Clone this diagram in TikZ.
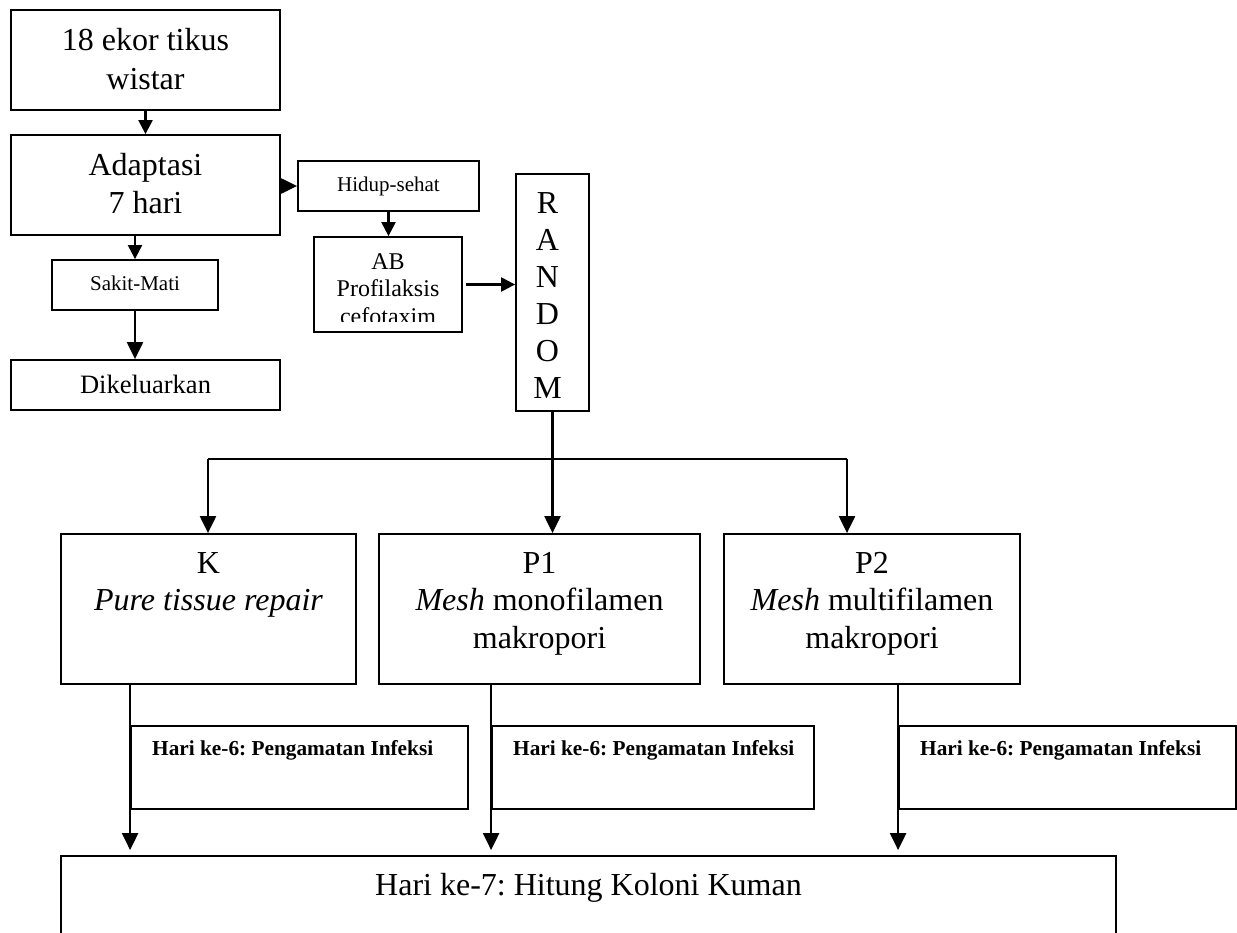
\documentclass[tikz,border=0pt]{standalone}
\usepackage{fontspec}
\setmainfont{Liberation Serif}
\usetikzlibrary{arrows.meta}
\frenchspacing
\begin{document}
\frenchspacing
\begin{tikzpicture}[x=1pt,y=-1pt,
  box/.style={draw, line width=1.8pt, rectangle, inner sep=0pt},
  ln/.style={line width=2.2pt},
  arr/.style={line width=2.2pt, -{Triangle[width=16pt,length=17pt]}},
  sarr/.style={line width=2.2pt, -{Triangle[width=14pt,length=14pt]}},
  tbig/.style={anchor=base, inner sep=0pt, font=\fontsize{32}{38}\selectfont},
  tmid/.style={anchor=base, inner sep=0pt, font=\fontsize{26.5}{32}\selectfont},
  tab/.style={anchor=base, inner sep=0pt, font=\fontsize{24}{28}\selectfont},
  tsmall/.style={anchor=base, inner sep=0pt, font=\fontsize{21}{25}\selectfont},
  tbold/.style={anchor=base west, inner sep=0pt, font=\fontsize{21.3}{25}\selectfont\bfseries},
]
\useasboundingbox (0,0) rectangle (1237,932);
\clip (0,0) rectangle (1237,932);
\fill[white] (0,0) rectangle (1237,932);

% boxes
\node[box, minimum width=269pt, minimum height=100pt] (b1) at (145.5,60) {};
\node[box, minimum width=269pt, minimum height=100pt] (b2) at (145.5,185) {};
\node[box, minimum width=181pt, minimum height=50pt] (hid) at (388.5,186) {};
\node[box, minimum width=148pt, minimum height=95pt] (ab) at (388,284.5) {};
\node[box, minimum width=166pt, minimum height=50pt] (sak) at (135,285) {};
\node[box, minimum width=269pt, minimum height=50pt] (dik) at (145.5,385) {};
\node[box, minimum width=73pt, minimum height=237pt] (rnd) at (552.5,292.5) {};
\node[box, minimum width=295pt, minimum height=150pt] (k) at (208.5,609) {};
\node[box, minimum width=321pt, minimum height=150pt] (p1) at (539.5,609) {};
\node[box, minimum width=296pt, minimum height=150pt] (p2) at (872,609) {};
\node[box, minimum width=337pt, minimum height=83pt] (i1) at (299.5,767.5) {};
\node[box, minimum width=322pt, minimum height=83pt] (i2) at (653,767.5) {};
\node[box, minimum width=337pt, minimum height=83pt] (i3) at (1067.5,767.5) {};
\node[box, minimum width=1055pt, minimum height=124pt] (big) at (588.5,918) {};

% texts
\node[tbig] (t1a) at (145.5,50) {18 ekor tikus};
\node[tbig] (t1b) at (145.5,89) {wistar};
\node[tbig] (t2a) at (145.5,175) {Adaptasi};
\node[tbig] (t2b) at (145.5,213) {7 hari};
\node[tsmall] (thid) at (388.5,191.7) {Hidup-sehat};
\node[tsmall] (tsak) at (135,290.7) {Sakit-Mati};
\node[tmid] (tdik) at (145.5,393) {Dikeluarkan};
\begin{scope}
  \clip (300,240) rectangle (470,321.5);
  \node[tab] (tab1) at (388,269.3) {AB};
  \node[tab] (tab2) at (388,296.7) {Profilaksis};
  \node[tab] (tab3) at (388,324) {cefotaxim};
\end{scope}
\node[tbig] (r1) at (547.5,213) {R};
\node[tbig] (r2) at (547.5,250) {A};
\node[tbig] (r3) at (547.5,287) {N};
\node[tbig] (r4) at (547.5,324) {D};
\node[tbig] (r5) at (547.5,361) {O};
\node[tbig] (r6) at (547.5,398) {M};
\node[tbig] (tk1) at (208.5,573) {K};
\node[tbig] (tk2) at (208.5,610) {\itshape Pure tissue repair};
\node[tbig] (tp1a) at (539.5,573) {P1};
\node[tbig] (tp1b) at (539.5,610) {\emph{Mesh} monofilamen};
\node[tbig] (tp1c) at (539.5,648) {makropori};
\node[tbig] (tp2a) at (872,573) {P2};
\node[tbig] (tp2b) at (872,610) {\emph{Mesh} multifilamen};
\node[tbig] (tp2c) at (872,648) {makropori};
\node[tbold] (ti1) at (152,755.5) {Hari ke-6: Pengamatan Infeksi};
\node[tbold] (ti2) at (513,755.5) {Hari ke-6: Pengamatan Infeksi};
\node[tbold] (ti3) at (920,755.5) {Hari ke-6: Pengamatan Infeksi};
\node[tbig] (tbig7) at (588.5,895) {Hari ke-7: Hitung Koloni Kuman};

% connectors
\draw[sarr] (b1.south) -- (b2.north);
\draw[arr] (b2.east |- hid.west) -- (hid.west);
\draw[sarr] (sak.north |- b2.south) -- (sak.north);
\draw[arr] (sak.south) -- (sak.south |- dik.north);
\draw[sarr] (hid.south) -- (hid.south |- ab.north);
\draw[sarr, shorten <=3pt] (ab.east) -- (ab.east -| rnd.west);

\coordinate (bl) at (208,459);
\coordinate (bm) at (552.5,459);
\coordinate (brr) at (847,459);
\draw[ln] (rnd.south) -- (bm);
\draw[ln] (bl) -- (brr);
\draw[arr] (bm) -- (bm |- p1.north);
\draw[arr] (bl) -- (bl |- k.north);
\draw[arr] (brr) -- (brr |- p2.north);

\draw[arr, shorten >=5pt] (i1.west |- k.south) -- (i1.west |- big.north);
\draw[arr, shorten >=5pt] (i2.west |- p1.south) -- (i2.west |- big.north);
\draw[arr, shorten >=5pt] (i3.west |- p2.south) -- (i3.west |- big.north);
\end{tikzpicture}
\end{document}
